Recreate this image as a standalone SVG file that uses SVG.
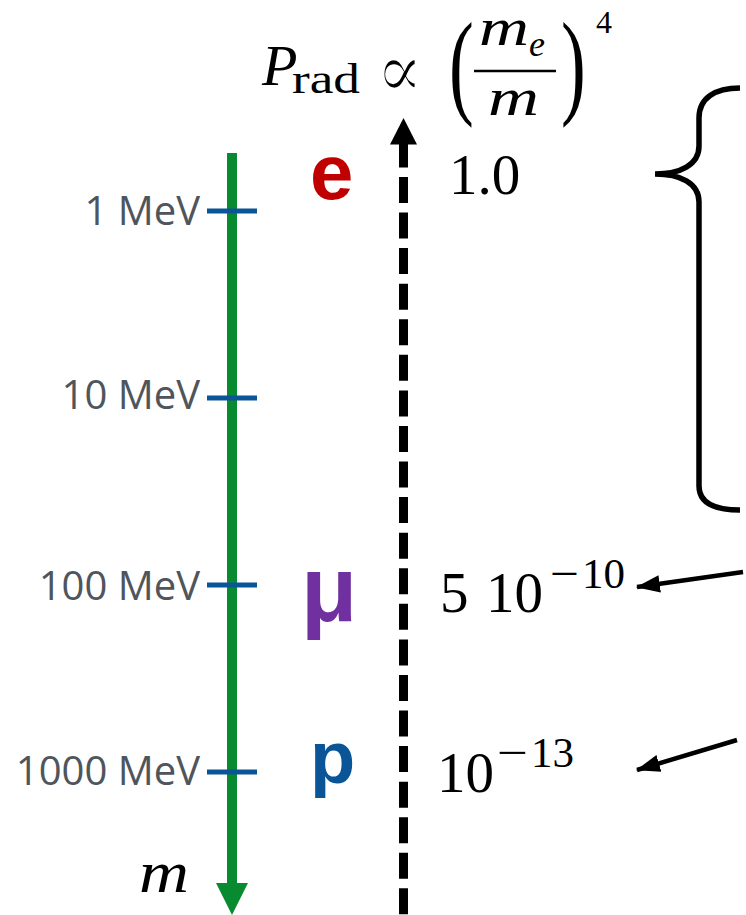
<svg xmlns="http://www.w3.org/2000/svg" width="746" height="915" viewBox="0 0 746 915">
<defs>
<style>
.lbl{font-family:"Open Sans","Liberation Sans",sans-serif;font-size:40px;fill:#4f555c;text-anchor:end}
.tick{stroke:#0a5597;stroke-width:5}
.math{font-family:"Liberation Serif","DejaVu Serif",serif;fill:#000}
.it{font-style:italic}
.big{font-size:57px}
.sup{font-size:43px}
.part{font-family:"Liberation Sans","Open Sans",sans-serif;font-weight:bold}
.conn{stroke:#000;stroke-width:4.5;fill:none}
</style>
<marker id="ah" markerUnits="userSpaceOnUse" markerWidth="24" markerHeight="20" viewBox="0 0 22 18" refX="21" refY="9" orient="auto">
<path d="M0,1 L22,9 L0,17 z" fill="#000"/>
</marker>
</defs>
<rect width="746" height="915" fill="#fff"/>

<g id="mass-axis">
<line x1="232" y1="153" x2="232" y2="886" stroke="#078a30" stroke-width="10"/>
<polygon points="216,883 248,883 232,915" fill="#078a30"/>
<text class="math it" x="139" y="892" font-size="60" textLength="50" lengthAdjust="spacingAndGlyphs">m</text>
</g>

<g id="ticks">
<line class="tick" x1="207" y1="211" x2="257" y2="211"/>
<line class="tick" x1="207" y1="398" x2="257" y2="398"/>
<line class="tick" x1="207" y1="585" x2="257" y2="585"/>
<line class="tick" x1="207" y1="772" x2="257" y2="772"/>
</g>

<g id="mass-labels">
<text class="lbl" x="200" y="225">1 MeV</text>
<text class="lbl" x="200" y="409">10 MeV</text>
<text class="lbl" x="200" y="600">100 MeV</text>
<text class="lbl" x="200" y="785">1000 MeV</text>
</g>

<g id="particle-e"><text class="part" x="310" y="199" font-size="78" fill="#c00000">e</text></g>
<g id="particle-mu"><text class="part" x="301" y="621" font-size="92" fill="#7030a0">μ</text></g>
<g id="particle-p"><text class="part" x="310" y="783" font-size="74" fill="#0a5597">p</text></g>

<g id="prad-axis">
<line x1="403.5" y1="141.4" x2="403.5" y2="915" stroke="#000" stroke-width="9" stroke-dasharray="26 9.57"/>
<polygon points="390,144.5 417,144.5 403.5,118" fill="#000"/>
</g>

<g id="title">
<text class="math it" x="262" y="85" font-size="58">P</text>
<text class="math" x="292" y="93" font-size="42" textLength="68" lengthAdjust="spacingAndGlyphs">rad</text>
<text font-family="DejaVu Serif,serif" font-size="48" transform="translate(376,97) scale(1.45,1.6)" stroke="#fff" stroke-width="1.3">∝</text>
<text class="math" font-size="120" transform="translate(449,103) scale(0.62,0.97)">(</text>
<text class="math it" x="479" y="45" font-size="52" textLength="50" lengthAdjust="spacingAndGlyphs">m</text>
<text class="math it" x="529" y="56" font-size="36">e</text>
<line x1="474" y1="71" x2="556" y2="71" stroke="#000" stroke-width="2.5"/>
<text class="math it" x="488" y="115" font-size="52" textLength="51" lengthAdjust="spacingAndGlyphs">m</text>
<text class="math" font-size="120" transform="translate(561,103) scale(0.62,0.97)">)</text>
<text class="math" x="596" y="33" font-size="32">4</text>
</g>

<g id="value-e"><text class="math big" x="449" y="194">1.0</text></g>
<g id="value-mu">
<text class="math big" y="612"><tspan x="440">5</tspan><tspan x="486">10</tspan></text>
<text class="math sup" y="588"><tspan x="550" textLength="29" lengthAdjust="spacingAndGlyphs">−</tspan><tspan x="582">10</tspan></text>
</g>
<g id="value-p">
<text class="math big" x="437" y="792">10</text>
<text class="math sup" y="767"><tspan x="497" textLength="31" lengthAdjust="spacingAndGlyphs">−</tspan><tspan x="531">13</tspan></text>
</g>

<g id="brace">
<path d="M740,88 C715,88 699,98 699,118 L699,146 C699,165 680,174 655,174 C680,174 699,183 699,202 L699,486 C699,503 715,510 740,510" fill="none" stroke="#000" stroke-width="5.5"/>
</g>

<g id="connectors">
<line class="conn" x1="743" y1="572" x2="637" y2="587" marker-end="url(#ah)"/>
<line class="conn" x1="737" y1="740" x2="637" y2="770" marker-end="url(#ah)"/>
</g>
</svg>
